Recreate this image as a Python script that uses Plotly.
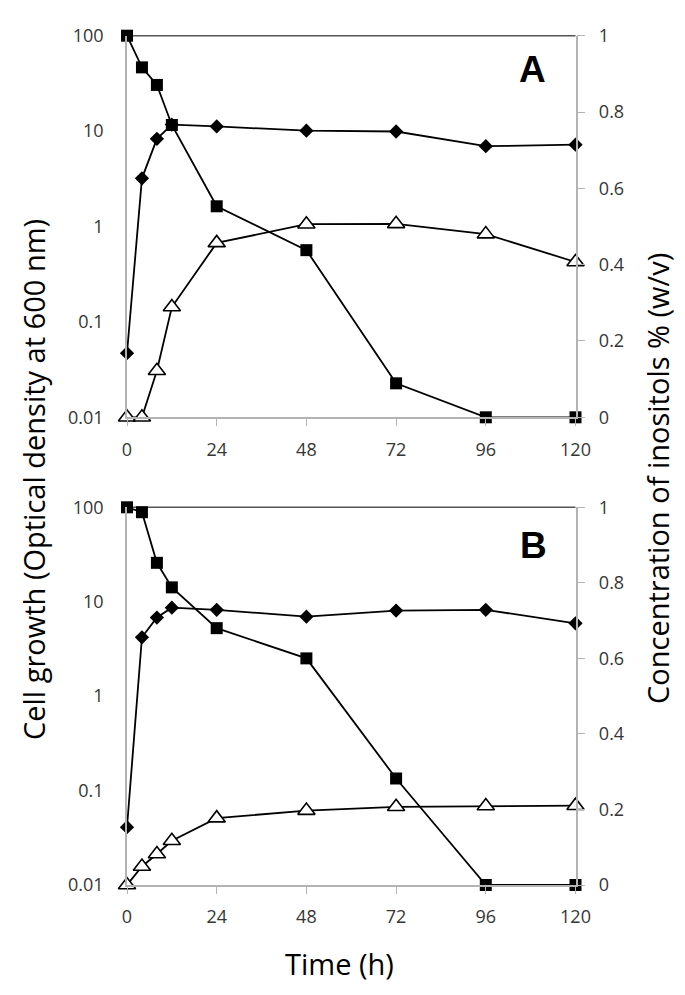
import plotly.graph_objects as go

# ---------------- data ----------------
time_h = [0, 4, 8, 12, 24, 48, 72, 96, 120]

# Panel A
od_A = [0.047, 3.2, 8.3, 11.7, 11.2, 10.1, 9.9, 6.95, 7.2]          # left (log) axis
myo_A = [1.0, 0.917, 0.871, 0.766, 0.553, 0.438, 0.089, 0.0, 0.0]   # right axis
scyllo_A = [0.0, 0.0, 0.122, 0.289, 0.457, 0.506, 0.507, 0.48, 0.407]

# Panel B
od_B = [0.041, 4.2, 6.8, 8.65, 8.2, 6.95, 8.05, 8.2, 5.9]
myo_B = [1.0, 0.987, 0.853, 0.788, 0.680, 0.600, 0.282, 0.0, 0.0]
scyllo_B = [0.0, 0.049, 0.082, 0.117, 0.177, 0.197, 0.207, 0.209, 0.21]

x_ticks = [0, 24, 48, 72, 96, 120]
left_ticks = [0.01, 0.1, 1, 10, 100]
left_labels = ["0.01", "0.1", "1", "10", "100"]
right_ticks = [0, 0.2, 0.4, 0.6, 0.8, 1]
right_labels = ["0", "0.2", "0.4", "0.6", "0.8", "1"]

# ---------------- styling ----------------
W, H = 685, 995
x_dom = [127 / W, 575.5 / W]
yA_dom = [1 - 417.3 / H, 1 - 35.7 / H]
yB_dom = [1 - 885 / H, 1 - 507.3 / H]

FONT = "Open Sans"
TICKFONT = dict(family=FONT, size=18, color="#363636")
AXCOL = "#b3b3b3"
LINE = dict(color="black", width=1.8)

fig = go.Figure()


def add_panel(od, myo, scy, xa, yl, yr):
    fig.add_trace(go.Scatter(
        x=time_h, y=od, xaxis=xa, yaxis=yl, mode="lines+markers",
        name="Cell growth", line=LINE,
        marker=dict(symbol="diamond", size=11, color="black"),
        cliponaxis=False, showlegend=False))
    fig.add_trace(go.Scatter(
        x=time_h, y=myo, xaxis=xa, yaxis=yr, mode="lines+markers",
        name="myo-inositol", line=LINE,
        marker=dict(symbol="square", size=12, color="black"),
        cliponaxis=False, showlegend=False))
    fig.add_trace(go.Scatter(
        x=time_h, y=scy, xaxis=xa, yaxis=yr, mode="lines+markers",
        name="scyllo-inositol", line=LINE,
        marker=dict(symbol="triangle-up", size=15, color="white",
                    line=dict(color="black", width=1.6)),
        cliponaxis=False, showlegend=False))


add_panel(od_A, myo_A, scyllo_A, "x", "y", "y2")
add_panel(od_B, myo_B, scyllo_B, "x2", "y3", "y4")

xcommon = dict(range=[0, 120], tickvals=x_ticks, ticktext=[str(t) for t in x_ticks],
               showline=True, linecolor=AXCOL, linewidth=1.5,
               ticks="outside", ticklen=7, tickcolor=AXCOL, tickwidth=1.2,
               showgrid=False, zeroline=False, tickfont=TICKFONT,
               ticklabelstandoff=8, domain=x_dom, automargin=False)
leftcommon = dict(type="log", range=[-2, 2], tickvals=left_ticks, ticktext=left_labels,
                  showline=True, linecolor=AXCOL, linewidth=1.5, ticks="",
                  showgrid=False, zeroline=False, tickfont=TICKFONT,
                  ticklabelstandoff=18, automargin=False)
rightcommon = dict(range=[0, 1], tickvals=right_ticks, ticktext=right_labels,
                   side="right", showline=True, linecolor=AXCOL, linewidth=1.5,
                   ticks="outside", ticklen=8, tickcolor=AXCOL, tickwidth=1.2,
                   showgrid=False, zeroline=False, tickfont=TICKFONT,
                   ticklabelstandoff=10, automargin=False)

fig.update_layout(
    template="none",
    width=W, height=H, autosize=False,
    margin=dict(l=0, r=0, t=0, b=0, pad=0, autoexpand=False),
    paper_bgcolor="white", plot_bgcolor="white",
    showlegend=False,
    xaxis=dict(**xcommon, anchor="y"),
    yaxis=dict(**leftcommon, domain=yA_dom, anchor="x"),
    yaxis2=dict(**rightcommon, domain=yA_dom, anchor="x", overlaying="y"),
    xaxis2=dict(**xcommon, anchor="y3"),
    yaxis3=dict(**leftcommon, domain=yB_dom, anchor="x2"),
    yaxis4=dict(**rightcommon, domain=yB_dom, anchor="x2", overlaying="y3"),
)

# top border lines (at 100 / 1)
for xr, yr in (("x domain", "y domain"), ("x2 domain", "y3 domain")):
    fig.add_shape(type="line", xref=xr, yref=yr, x0=0, x1=1, y0=1, y1=1,
                  line=dict(color="#555555", width=1.5), layer="below")


def label(text, px, py, font, angle=0):
    fig.add_annotation(text=text, x=px / W, y=1 - py / H, xref="paper", yref="paper",
                       xanchor="center", yanchor="middle", showarrow=False,
                       textangle=angle, font=font)


# panel letters
LETTERFONT = dict(family="Liberation Sans", size=37, color="black")
label("<b>A</b>", 532, 70, LETTERFONT)
label("<b>B</b>", 533, 545, LETTERFONT)

# axis titles
TITLEFONT = dict(family=FONT, size=29, color="black")
label("Cell growth (Optical density at 600 nm)", 33, 480, TITLEFONT, -90)
label("Concentration of inositols % (w/v)", 657, 479, TITLEFONT, -90)
label("Time (h)", 339, 963, TITLEFONT)

fig.write_html("out.html", config={"displayModeBar": False},
               post_script="document.body.style.margin='0';document.body.style.overflow='hidden';")
